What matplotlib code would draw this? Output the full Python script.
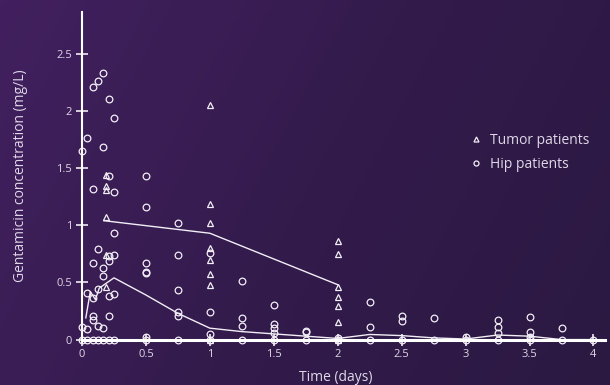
"""Gentamicin concentration over time for tumor and hip patients."""
import matplotlib
import numpy as np

matplotlib.use("Agg")
from matplotlib import pyplot as plt
from matplotlib.colors import LinearSegmentedColormap

# hip patients (circles): sampling time in days, concentration in mg/L
hip_times = (
    [0, 0, 0]
    + [1 / 24] * 4
    + [2 / 24] * 7
    + [3 / 24] * 5
    + [4 / 24] * 6
    + [5 / 24] * 7
    + [6 / 24] * 6
    + [0.5] * 7
    + [0.75] * 6
    + [1.0] * 4
    + [1.25] * 4
    + [1.5] * 5
    + [1.75] * 3
    + [2.0] * 2
    + [2.25] * 3
    + [2.5] * 3
    + [2.75] * 2
    + [3.0] * 2
    + [3.25] * 4
    + [3.5] * 4
    + [3.75] * 2
    + [4.0]
)
hip_conc = [
    1.65, 0.11, 0.0,
    1.76, 0.41, 0.09, 0.0,
    2.21, 1.32, 0.67, 0.36, 0.205, 0.17, 0.0,
    2.26, 0.79, 0.44, 0.12, 0.0,
    2.33, 1.68, 0.63, 0.56, 0.10, 0.0,
    2.10, 1.43, 0.73, 0.69, 0.38, 0.21, 0.0,
    1.94, 1.29, 0.93, 0.74, 0.40, 0.0,
    1.43, 1.16, 0.67, 0.59, 0.58, 0.02, 0.0,
    1.02, 0.74, 0.43, 0.24, 0.21, 0.0,
    0.76, 0.24, 0.05, 0.0,
    0.51, 0.19, 0.12, 0.0,
    0.30, 0.135, 0.10, 0.06, 0.0,
    0.075, 0.065, 0.0,
    0.01, 0.0,
    0.325, 0.11, 0.0,
    0.21, 0.16, 0.0,
    0.19, 0.0,
    0.02, 0.0,
    0.17, 0.11, 0.06, 0.0,
    0.20, 0.065, 0.02, 0.0,
    0.105, 0.0,
    0.0,
]

# tumor patients (triangles)
tumor_times = [0.19] * 6 + [1.0] * 8 + [2.0] * 7
tumor_conc = [
    1.44, 1.34, 1.31, 1.07, 0.74, 0.46,
    2.05, 1.19, 1.02, 0.80, 0.70, 0.57, 0.48, 0.0,
    0.86, 0.75, 0.46, 0.37, 0.29, 0.15, 0.0,
]

# central tendency lines
hip_line_t = [0.03, 0.065, 0.105, 0.135, 0.25, 0.5, 0.75, 1.0, 1.25, 1.5, 1.75,
              2.0, 2.25, 2.5, 2.75, 3.0, 3.25, 3.5, 3.75, 4.0]
hip_line_c = [0.19, 0.42, 0.35, 0.45, 0.54, 0.39, 0.23, 0.10, 0.07, 0.05, 0.03,
              0.01, 0.045, 0.035, 0.015, 0.005, 0.04, 0.03, 0.0, 0.0]
tumor_line_t = [0.17, 1.0, 2.0]
tumor_line_c = [1.04, 0.93, 0.48]

x_ticks = [0, 0.5, 1, 1.5, 2, 2.5, 3, 3.5, 4]
x_tick_labels = ["0", "0.5", "1", "1.5", "2", "2.5", "3", "3.5", "4"]
y_ticks = [0, 0.5, 1, 1.5, 2, 2.5]
y_tick_labels = ["0", "0.5", "1", "1.5", "2", "2.5"]

plt.rcParams["font.family"] = ["Open Sans", "DejaVu Sans"]
FG = "#f2eef6"
TXT = "#e0d8e8"

fig = plt.figure(figsize=(6.1, 3.85), dpi=100)

# purple gradient background
bg = fig.add_axes([0, 0, 1, 1], zorder=-1)
bg.axis("off")
cmap = LinearSegmentedColormap.from_list("bg", ["#42205f", "#331b4c", "#2b1942"])
gx, gy = np.meshgrid(np.linspace(0, 1, 200), np.linspace(0, 1, 120))
bg.imshow(0.75 * gx + 0.25 * gy, cmap=cmap, aspect="auto", extent=(0, 1, 0, 1))

ax = fig.add_axes([0.1344, 0.109, 0.8574, 0.86])
ax.patch.set_alpha(0)

ax.plot(tumor_line_t, tumor_line_c, color=FG, linewidth=1.0, zorder=2)
ax.plot(hip_line_t, hip_line_c, color=FG, linewidth=1.0, zorder=2)
ax.plot(tumor_times, tumor_conc, linestyle="none", marker="^", markersize=4.8,
        markerfacecolor="none", markeredgecolor=FG, markeredgewidth=0.9,
        clip_on=False, zorder=3, label="Tumor patients")
ax.plot(hip_times, hip_conc, linestyle="none", marker="o", markersize=4.8,
        markerfacecolor="none", markeredgecolor=FG, markeredgewidth=0.9,
        clip_on=False, zorder=3, label="Hip patients")

ax.set_xlim(0, 4.09)
ax.set_ylim(-0.03, 2.865)
ax.spines["top"].set_visible(False)
ax.spines["right"].set_visible(False)
ax.spines["bottom"].set_position(("data", 0))
ax.spines["bottom"].set_color("white")
ax.spines["bottom"].set_linewidth(2.2)
ax.spines["left"].set_color("white")
ax.spines["left"].set_linewidth(1.5)
ax.spines["bottom"].set_zorder(4)

ax.set_xticks(x_ticks)
ax.set_xticklabels(x_tick_labels)
ax.set_yticks(y_ticks)
ax.set_yticklabels(y_tick_labels)
ax.tick_params(axis="both", direction="inout", length=8, width=1.1, color="white",
               labelcolor=TXT, labelsize=8, pad=3)

ax.set_xlabel("Time (days)", color=TXT, fontsize=10)
ax.xaxis.set_label_coords(0.486, -0.082)
ax.set_ylabel("Gentamicin concentration (mg/L)", color=TXT, fontsize=10)
ax.yaxis.set_label_coords(-0.104, 0.505)

leg = ax.legend(loc="center left", bbox_to_anchor=(0.7695, 0.6045),
                bbox_transform=fig.transFigure, frameon=False, fontsize=10,
                handlelength=1.0, handletextpad=0.45, borderpad=0, borderaxespad=0,
                labelspacing=0.65, markerscale=0.75)
for text in leg.get_texts():
    text.set_color(TXT)

fig.savefig("out.png", dpi=100)
plt.close(fig)
